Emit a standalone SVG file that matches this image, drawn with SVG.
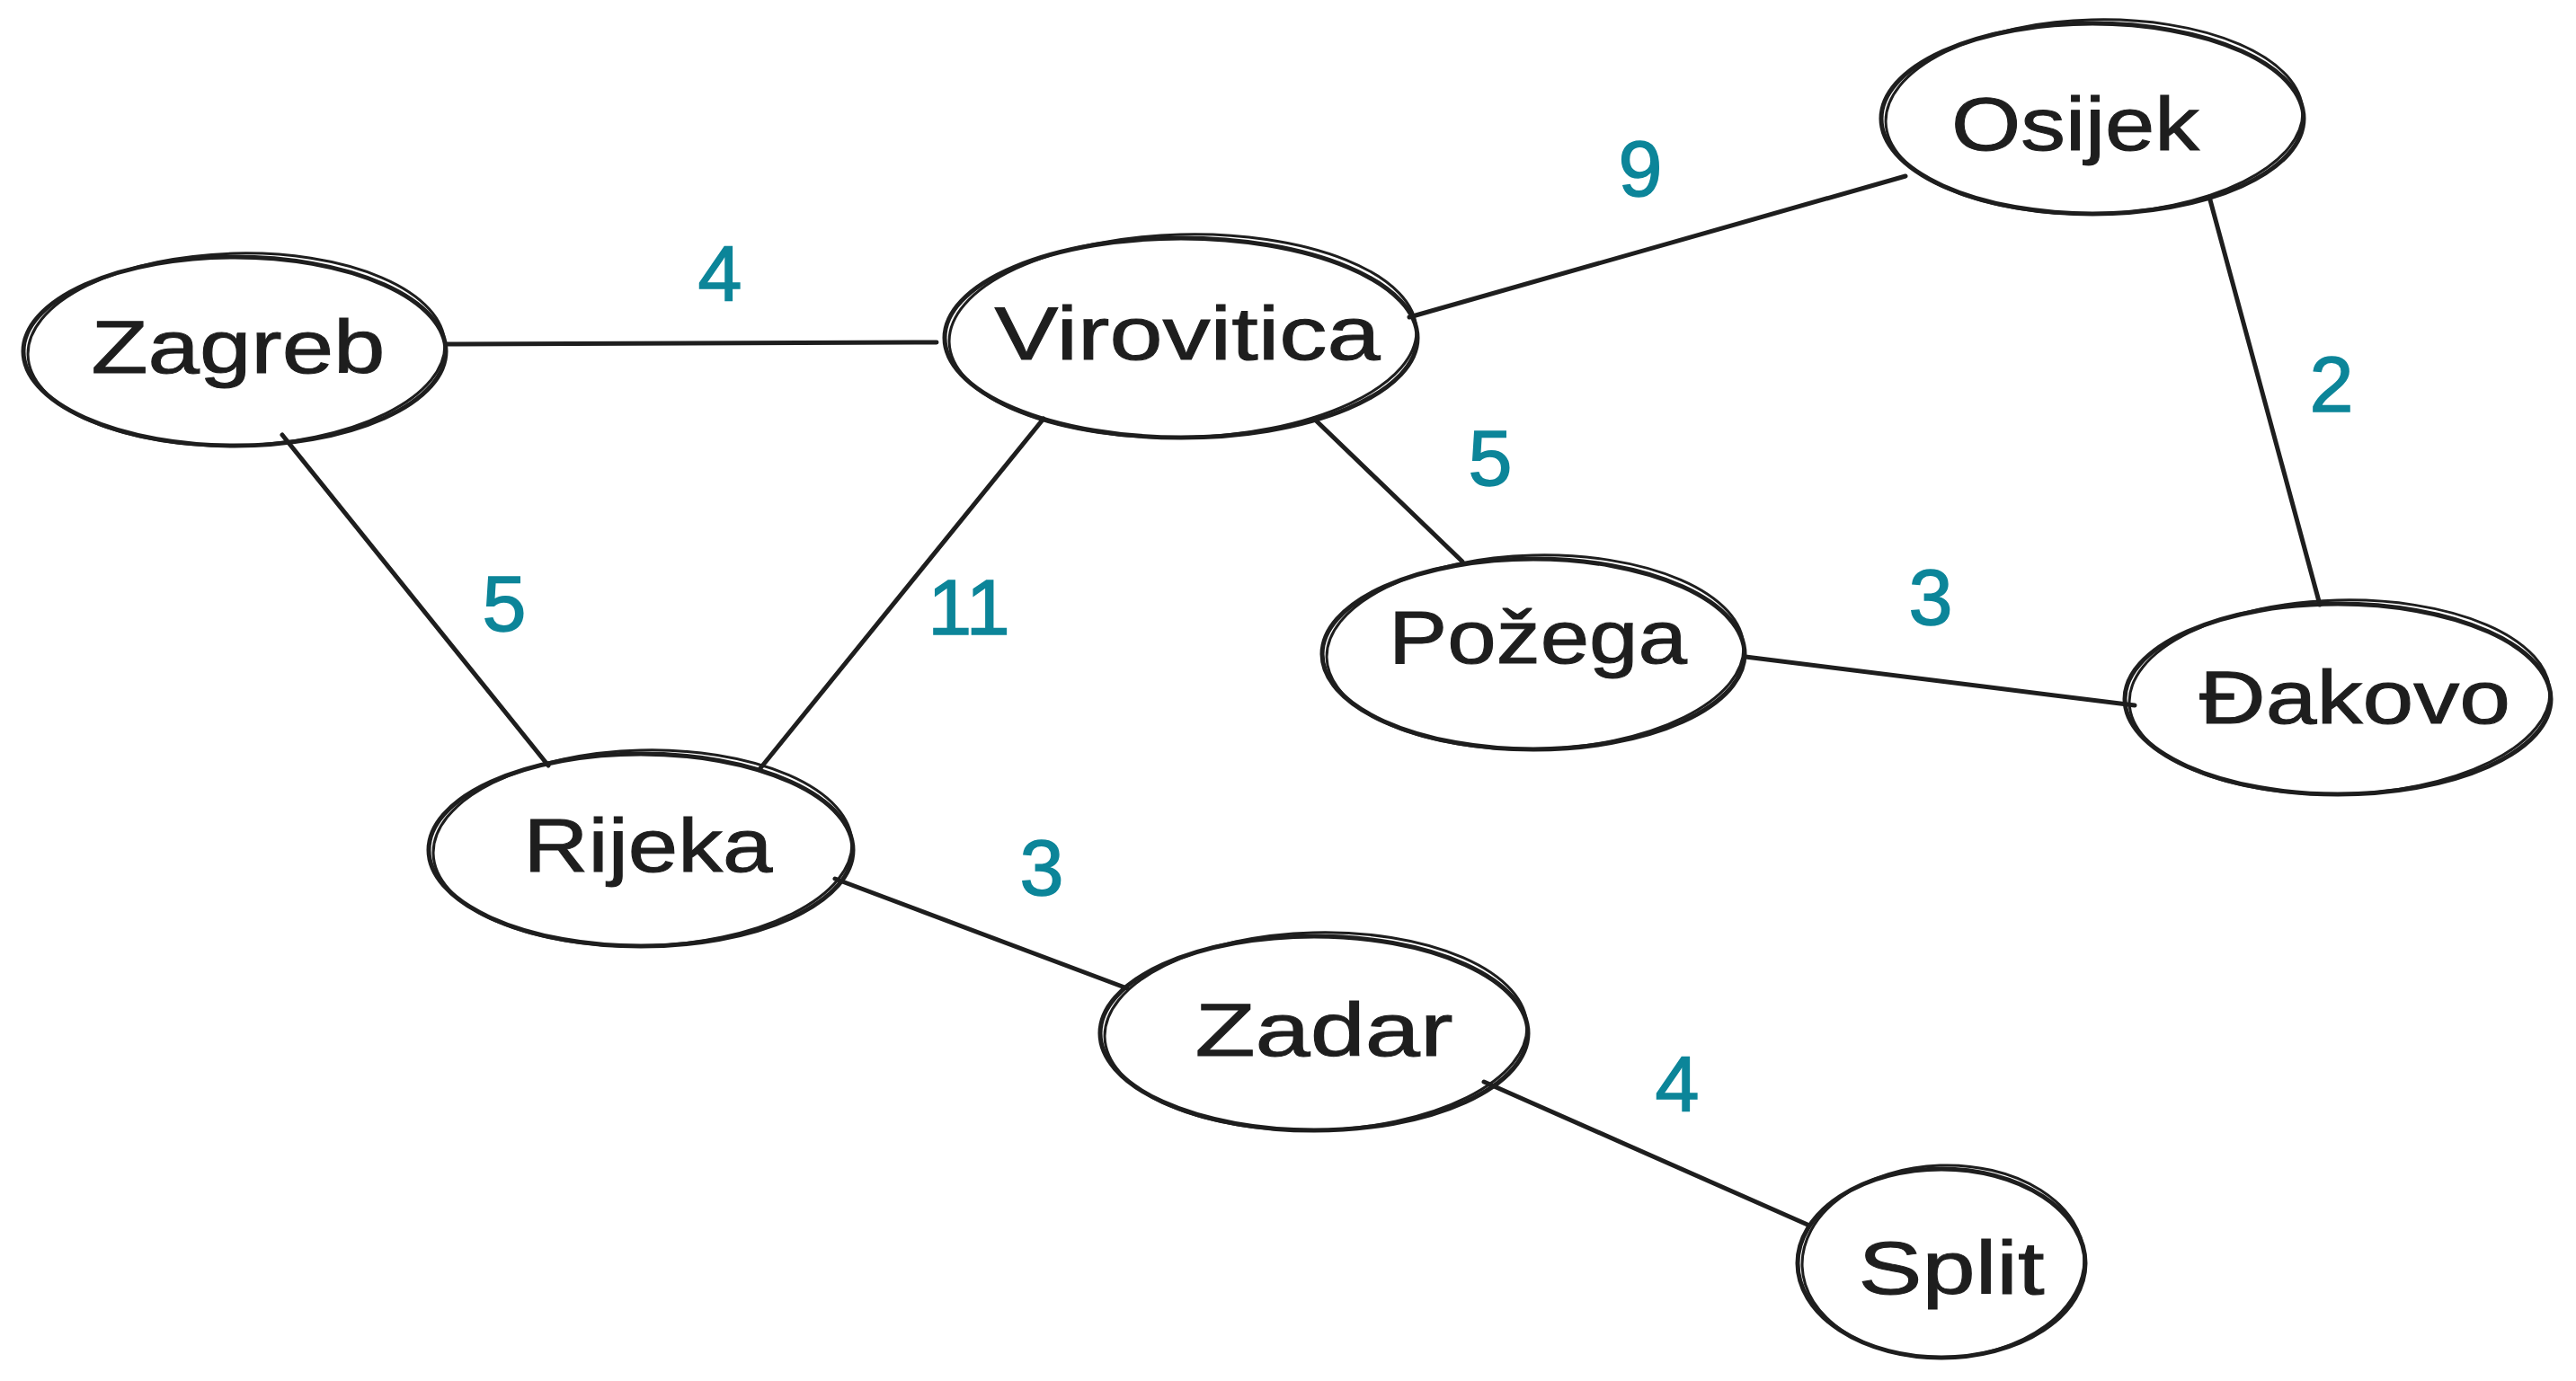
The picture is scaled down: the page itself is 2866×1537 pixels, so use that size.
<svg xmlns="http://www.w3.org/2000/svg" width="2866" height="1537" viewBox="0 0 2866 1537">
<style>
.bg{fill:#ffffff}
.n{fill:none;stroke:#1e1e1e;stroke-width:5}
.n2{fill:none;stroke:#1e1e1e;stroke-width:3}
.e{stroke:#1e1e1e;stroke-width:5;stroke-linecap:round;fill:none}
.t{font-family:"Liberation Sans",Arial,sans-serif;font-size:84px;fill:#1e1e1e;text-anchor:middle;stroke:#1e1e1e;stroke-width:1}
.w{font-family:"Liberation Sans",Arial,sans-serif;font-size:88px;fill:#0c8599;text-anchor:middle;stroke:#0c8599;stroke-width:1.5}
</style>
<rect class="bg" x="0" y="0" width="2866" height="1537"/>
<g id="connectors">
<line class="e" x1="497" y1="383" x2="1042" y2="381"/>
<line class="e" x1="1568" y1="353" x2="2120" y2="196"/>
<line class="e" x1="2458" y1="219" x2="2581" y2="673"/>
<line class="e" x1="1462" y1="466" x2="1627" y2="625"/>
<line class="e" x1="1942" y1="731" x2="2375" y2="785"/>
<line class="e" x1="314" y1="484" x2="610" y2="852"/>
<line class="e" x1="1161" y1="466" x2="846" y2="855"/>
<line class="e" x1="929" y1="978" x2="1254" y2="1100"/>
<line class="e" x1="1651" y1="1204" x2="2011" y2="1363"/>
<text class="w" x="801" y="335">4</text>
<text class="w" x="1825" y="218">9</text>
<text class="w" x="2594" y="458">2</text>
<text class="w" x="1658" y="540">5</text>
<text class="w" x="2148" y="695">3</text>
<text class="w" x="561" y="702">5</text>
<text class="w" x="1078" y="706">11</text>
<text class="w" x="1159" y="996">3</text>
<text class="w" x="1866" y="1237">4</text>
</g>
<g id="zagreb">
<ellipse class="n" cx="261" cy="391" rx="235" ry="105"/>
<ellipse class="n2" cx="263" cy="389" rx="232" ry="107" transform="rotate(-1.5 263 389)"/>
<text class="t" x="265" y="415" textLength="327" lengthAdjust="spacingAndGlyphs">Zagreb</text>
</g>
<g id="virovitica">
<ellipse class="n" cx="1314" cy="376" rx="263" ry="111"/>
<ellipse class="n2" cx="1316" cy="374" rx="260" ry="113" transform="rotate(-1.5 1316 374)"/>
<text class="t" x="1321" y="400" textLength="429" lengthAdjust="spacingAndGlyphs">Virovitica</text>
</g>
<g id="osijek">
<ellipse class="n" cx="2328" cy="132" rx="235" ry="106"/>
<ellipse class="n2" cx="2330" cy="130" rx="232" ry="108" transform="rotate(-1.5 2330 130)"/>
<text class="t" x="2309" y="167" textLength="276" lengthAdjust="spacingAndGlyphs">Osijek</text>
</g>
<g id="pozega">
<ellipse class="n" cx="1706" cy="728" rx="235" ry="106"/>
<ellipse class="n2" cx="1708" cy="726" rx="232" ry="108" transform="rotate(-1.5 1708 726)"/>
<text class="t" x="1711" y="738" textLength="332" lengthAdjust="spacingAndGlyphs">Požega</text>
</g>
<g id="djakovo">
<ellipse class="n" cx="2601" cy="778" rx="237" ry="106"/>
<ellipse class="n2" cx="2603" cy="776" rx="234" ry="108" transform="rotate(-1.5 2603 776)"/>
<text class="t" x="2620" y="805" textLength="346" lengthAdjust="spacingAndGlyphs">Đakovo</text>
</g>
<g id="rijeka">
<ellipse class="n" cx="713" cy="946" rx="236" ry="107"/>
<ellipse class="n2" cx="715" cy="944" rx="233" ry="109" transform="rotate(-1.5 715 944)"/>
<text class="t" x="721" y="970" textLength="277" lengthAdjust="spacingAndGlyphs">Rijeka</text>
</g>
<g id="zadar">
<ellipse class="n" cx="1462" cy="1150" rx="238" ry="108"/>
<ellipse class="n2" cx="1464" cy="1148" rx="235" ry="110" transform="rotate(-1.5 1464 1148)"/>
<text class="t" x="1473" y="1175" textLength="287" lengthAdjust="spacingAndGlyphs">Zadar</text>
</g>
<g id="split">
<ellipse class="n" cx="2160" cy="1406" rx="160" ry="105"/>
<ellipse class="n2" cx="2162" cy="1404" rx="157" ry="107" transform="rotate(-2 2162 1404)"/>
<text class="t" x="2171" y="1440" textLength="207" lengthAdjust="spacingAndGlyphs">Split</text>
</g>
</svg>
